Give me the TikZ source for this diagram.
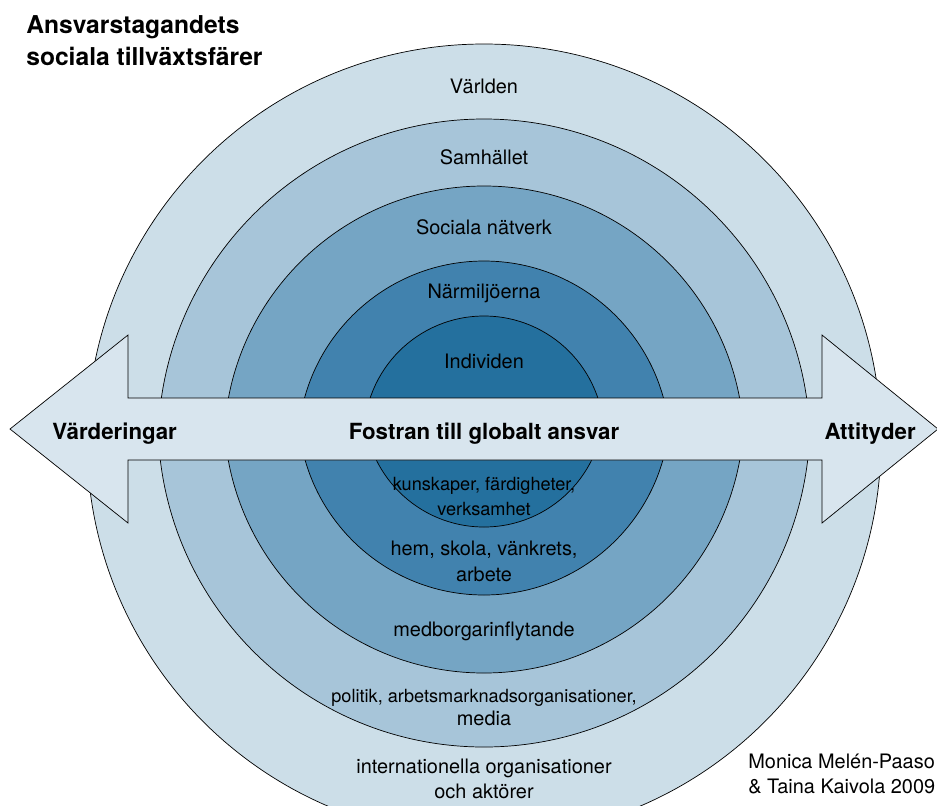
\documentclass[tikz,border=0pt]{standalone}
\usepackage{fontspec}
\setmainfont{TeX Gyre Heros}
\usetikzlibrary{calc}
\definecolor{worldblue}{RGB}{204,222,232}
\definecolor{societyblue}{RGB}{167,197,217}
\definecolor{networkblue}{RGB}{117,165,196}
\definecolor{localblue}{RGB}{65,130,174}
\definecolor{selfblue}{RGB}{36,112,158}
\definecolor{bandblue}{RGB}{216,229,238}
% upper centre, lower centre, radius, colour
\newcommand{\drawsphere}[4]{
    \draw[fill=#4] (484+#3, #1) arc[start angle=0, end angle=-180, radius=#3]
        -- (484-#3, #2) arc[start angle=180, end angle=0, radius=#3] -- cycle;
}

\begin{document}
\begin{tikzpicture}[x=0.03cm, y=-0.03cm, line width=0.6pt,
    ringtext/.style={font=\fontsize{17}{21}\selectfont, inner sep=0, anchor=base},
    lowtext/.style={font=\fontsize{15.5}{21}\selectfont, inner sep=0, anchor=base},
    headtext/.style={font=\fontsize{19}{23}\selectfont\bfseries, inner sep=0, anchor=base}]
        \useasboundingbox (0, 0) rectangle (937, 805);
        \clip (0, 0) rectangle (937, 805);
        \drawsphere{441}{441}{397}{worldblue}
        \drawsphere{445}{421}{326}{societyblue}
        \drawsphere{446}{413}{260}{networkblue}
        \drawsphere{447}{409}{186}{localblue}
        \drawsphere{436}{407}{120}{selfblue}
        \draw[fill=bandblue] (10, 429) -- (128, 335) -- (128, 398) -- (822, 398) -- (822, 335)
            -- (938, 429) -- (822, 523) -- (822, 460) -- (128, 460) -- (128, 523) -- cycle;
        \node[headtext, font=\fontsize{21}{28}\selectfont\bfseries, anchor=base west] (title) at (26, 33) {Ansvarstagandets};
        \node[headtext, font=\fontsize{21}{28}\selectfont\bfseries, anchor=base west] (titleb) at (26, 65) {sociala tillväxtsfärer};
        \node[ringtext] (world) at (484, 93) {Världen};
        \node[ringtext] (society) at (484, 164) {Samhället};
        \node[ringtext] (network) at (484, 234) {Sociala nätverk};
        \node[ringtext] (local) at (484, 298) {Närmiljöerna};
        \node[ringtext] (self) at (484, 368) {Individen};
        \node[headtext] (band) at (484, 439) {Fostran till globalt ansvar};
        \node[headtext, anchor=base west] (values) at (52, 439) {Värderingar};
        \node[headtext, anchor=base east] (attitudes) at (916, 439) {Attityder};
        \node[lowtext] (selfa) at (484, 490) {kunskaper, färdigheter,};
        \node[lowtext] (selfb) at (484, 515) {verksamhet};
        \node[ringtext] (locala) at (484, 555) {hem, skola, vänkrets,};
        \node[ringtext] (localb) at (484, 581) {arbete};
        \node[ringtext] (networka) at (484, 636) {medborgarinflytande};
        \node[lowtext] (societya) at (484, 702) {politik, arbetsmarknadsorganisationer,};
        \node[ringtext] (societyb) at (484, 725) {media};
        \node[ringtext] (worlda) at (484, 773) {internationella organisationer};
        \node[ringtext] (worldb) at (484, 798) {och aktörer};
        \node[ringtext, anchor=base west] (author) at (748, 768) {Monica Melén-Paaso};
        \node[ringtext, anchor=base west] (authorb) at (748, 793) {\& Taina Kaivola 2009};
    \end{tikzpicture}
\end{document}
